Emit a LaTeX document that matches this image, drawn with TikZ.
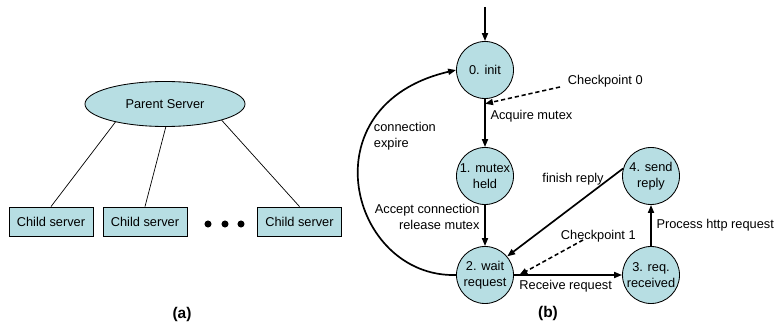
\documentclass[tikz,border=0pt]{standalone}
\usepackage{fontspec}
\setmainfont{Liberation Sans}
\usetikzlibrary{shapes.geometric,arrows.meta}

\definecolor{stateblue}{RGB}{183,222,227}

\begin{document}
\begin{tikzpicture}[x=0.025cm, y=-0.025cm,
    font=\fontsize{9.1}{11.4}\selectfont,
    parent/.style={draw, ellipse, fill=stateblue, line width=0.6pt, minimum width=4cm, minimum height=1.125cm, inner sep=0pt},
    child/.style={draw, rectangle, fill=stateblue, line width=0.6pt, minimum width=2.1cm, minimum height=0.725cm, inner sep=1pt},
    state/.style={draw, circle, fill=stateblue, line width=0.6pt, minimum size=1.425cm, inner sep=0pt, align=center},
    flow/.style={-{Triangle[length=2mm,width=1.5mm]}, line width=1.2pt},
    check/.style={-{Triangle[length=2mm,width=1.5mm]}, line width=1.1pt, dash pattern=on 3pt off 2pt},
    caption/.style={font=\fontsize{11}{13}\selectfont\bfseries}
]
    \useasboundingbox (0,0) rectangle (780,327);

    % Panel (a): parent and child servers
    \node[parent] (parent) at (165,104) {Parent Server};
    \node[child] (c1) at (51,221.5) {Child server};
    \node[child] (c2) at (145,221.5) {Child server};
    \node[child] (c3) at (299.5,221.5) {Child server};

    \draw[line width=0.5pt] (c1.north) -- (parent.200);
    \draw[line width=0.5pt] (c2.north) -- (parent.272);
    \draw[line width=0.5pt] (c3.north) -- (parent.344);

    \foreach \x in {208,225,241}
        \fill (\x,224) circle (2.5pt);

    \node[caption] (capa) at (182,314) {(a)};

    % Panel (b): state machine
    \node[state] (s0) at (485,70) {0. init};
    \node[state] (s1) at (485,176) {1. mutex\\held};
    \node[state] (s2) at (485,275) {2. wait\\request};
    \node[state] (s3) at (651,275) {3. req.\\received};
    \node[state] (s4) at (651,176) {4. send\\reply};

    \coordinate (entry) at (485,7);
    \draw[flow] (entry) -- (s0);
    \draw[flow] (s0) -- coordinate[pos=0.1] (chk0) node[right, pos=0.36] {Acquire mutex} (s1);
    \draw[flow] (s1) -- node[left, align=right, pos=0.3] {Accept connection\\release mutex} (s2);
    \draw[flow] (s4.165) -- node[left, pos=0.12] {finish reply} (s2.40);
    \draw[flow] (s2) -- coordinate[pos=0.05] (chk1) node[below right, pos=0] {Receive request} (s3);
    \draw[flow] (s3) -- node[right] {Process http request} (s4);
    \draw[flow] (s2.west) .. controls (350,278) and (305,105) .. (s0.west);
    \node[align=left, anchor=west] (expire) at (369,136) {connection\\expire};

    % checkpoints
    \node[anchor=west] (cp0) at (563,81) {Checkpoint 0};
    \coordinate (cp0tail) at (560,87);
    \draw[check] (cp0tail) -- (chk0);
    \node[anchor=west] (cp1) at (556,236) {Checkpoint 1};
    \coordinate (cp1tail) at (583,240);
    \draw[check] (cp1tail) -- (chk1);

    \node[caption] (capb) at (548,313) {(b)};
\end{tikzpicture}
\end{document}
